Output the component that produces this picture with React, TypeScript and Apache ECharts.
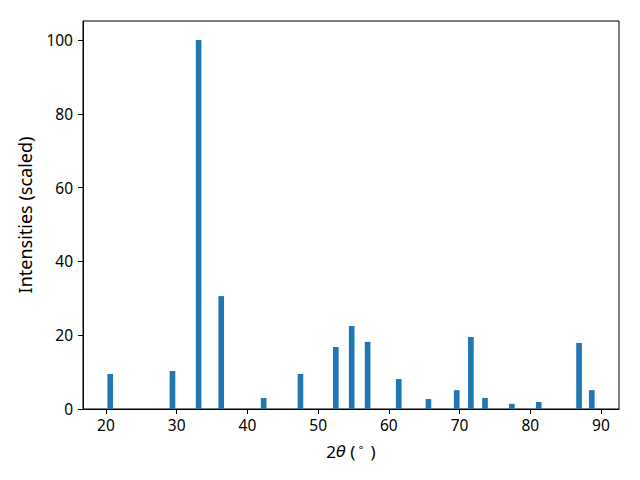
import React, { useEffect, useRef } from "react";
import * as echarts from "echarts";

const twoTheta = [20.6, 29.4, 33.1, 36.3, 42.3, 47.5, 52.5, 54.75, 57.0, 61.4, 65.6, 69.6, 71.6, 73.6, 77.4, 81.2, 86.9, 88.7];
const intensity = [9.5, 10.3, 100, 30.6, 3.0, 9.5, 16.8, 22.5, 18.2, 8.1, 2.7, 5.1, 19.5, 3.0, 1.4, 1.9, 17.9, 5.1];
const xTicks = [20, 30, 40, 50, 60, 70, 80, 90];
const yTicks = [0, 20, 40, 60, 80, 100];
const barWidth = 0.8;

export default function App() {
  const ref = useRef<HTMLDivElement>(null);
  useEffect(() => {
    if (!ref.current) return;
    const chart = echarts.init(ref.current, null, { renderer: "svg" });
    const font = "Noto Sans";
    const mfont = "DejaVu Sans";
    chart.setOption({
      animation: false,
      textStyle: { fontFamily: font },
      grid: {
        left: 83, right: 21, top: 21, bottom: 71,
        show: true, borderColor: "#000", borderWidth: 1, backgroundColor: "transparent",
      },
      xAxis: {
        type: "value",
        min: 16.75,
        max: 92.55,
        name: "{n|2}{i|θ}{n| (}{s|∘}{n| )}",
        nameLocation: "middle",
        nameGap: 33,
        nameTextStyle: {
          rich: {
            n: { fontFamily: font, fontSize: 17, color: "#000" },
            i: { fontFamily: mfont, fontSize: 16, color: "#000", fontStyle: "italic" },
            s: { fontFamily: mfont, fontSize: 11, color: "#000", padding: [0, 2, 8, 2] },
          },
        },
        axisLine: { show: true, onZero: false, lineStyle: { color: "#000", width: 1 } },
        axisTick: { show: true, inside: false, length: 5, customValues: xTicks, lineStyle: { color: "#000" } },
        axisLabel: { customValues: xTicks, margin: 8, fontSize: 15.5, color: "#000", fontFamily: font },
        splitLine: { show: false },
      },
      yAxis: {
        type: "value",
        min: 0,
        max: 105.15,
        interval: 20,
        name: "Intensities (scaled)",
        nameLocation: "middle",
        nameGap: 49,
        nameTextStyle: { fontSize: 18, color: "#000", fontFamily: font },
        axisLine: { show: true, lineStyle: { color: "#000", width: 1 } },
        axisTick: { show: true, inside: false, length: 5, customValues: yTicks, lineStyle: { color: "#000" } },
        axisLabel: { customValues: yTicks, margin: 10, fontSize: 15.5, color: "#000", fontFamily: font },
        splitLine: { show: false },
      },
      series: [
        {
          type: "custom",
          data: twoTheta.map((x, i) => [x, intensity[i]]),
          encode: { x: 0, y: 1 },
          renderItem: (params: any, api: any) => {
            const x = api.value(0);
            const y = api.value(1);
            const p0 = api.coord([x - barWidth / 2, 0]);
            const p1 = api.coord([x + barWidth / 2, y]);
            return {
              type: "rect",
              shape: { x: p0[0], y: p1[1], width: p1[0] - p0[0], height: p0[1] - p1[1] },
              style: { fill: "#1f77b4" },
            };
          },
        },
      ],
    });
    return () => chart.dispose();
  }, []);
  return <div ref={ref} style={{ width: 640, height: 480, position: "absolute", left: 0, top: 0 }} />;
}
